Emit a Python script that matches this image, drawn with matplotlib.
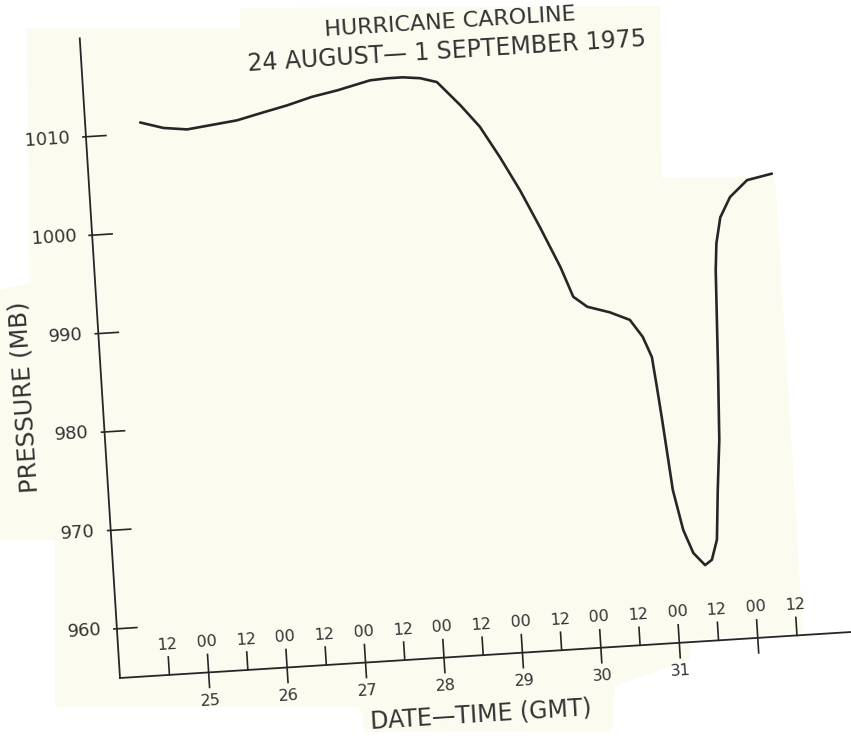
import matplotlib
matplotlib.use("Agg")
import matplotlib.pyplot as plt
from matplotlib.transforms import Affine2D
from matplotlib.patches import Polygon

# pressure trace, time in days of August (32 = 1 September), pressure in mb
times = [24.57, 24.86, 25.16, 25.80, 26.12, 26.45, 26.77, 27.10, 27.52, 27.74,
         27.94, 28.16, 28.37, 28.65, 28.88, 29.11, 29.34, 29.56, 29.79, 29.93,
         30.10, 30.38, 30.63, 30.78, 30.88, 30.92, 30.96, 31.04, 31.14, 31.25,
         31.39, 31.48, 31.56, 31.61, 31.67, 31.71, 31.76, 31.79, 31.86, 32.00,
         32.23, 32.55]
pressures = [1011.1, 1010.4, 1010.1, 1010.7, 1011.3, 1011.9, 1012.6, 1013.1, 1013.9, 1014.0,
             1014.0, 1013.8, 1013.3, 1010.8, 1008.5, 1005.3, 1001.8, 998.0, 993.8, 990.7,
             989.6, 988.9, 988.0, 986.2, 984.1, 981.0, 977.7, 970.5, 966.4, 964.0,
             962.7, 963.2, 965.2, 970.2, 975.3, 982.4, 992.5, 995.2, 997.8, 999.8,
             1001.4, 1001.9]

y_ticks = [960, 970, 980, 990, 1000, 1010]
hour_ticks = [24.5, 25, 25.5, 26, 26.5, 27, 27.5, 28, 28.5, 29, 29.5,
              30, 30.5, 31, 31.5, 32, 32.5]
hour_labels = ["12", "00"] * 8 + ["12"]
day_ticks = [25, 26, 27, 28, 29, 30, 31]
day_labels = ["25", "26", "27", "28", "29", "30", "31"]

X0, Y0 = 23.87, 955.0   # corner of the axes
X1, Y1 = 33.19, 1020.0

ink = "#262626"
txt = "#333333"
paper = "#fcfbef"

fig = plt.figure(figsize=(8.51, 7.39), dpi=100)
ax = fig.add_axes([0, 0, 1, 1])
ax.set_xlim(0, 851)
ax.set_ylim(739, 0)
ax.axis("off")

# the scan sits slightly rotated on the page
ang = 3.6
tr = Affine2D().translate(-X0, -Y0).scale(78.6, -9.86).rotate_deg(-ang).translate(120, 678) + ax.transData

# scanned paper pieces
paper_outline = [(27, 28), (240, 28), (240, 8), (660, 6), (662, 178), (775, 176),
                 (803, 632), (690, 640), (690, 660), (615, 685), (612, 732),
                 (365, 732), (360, 707), (55, 707), (55, 540), (0, 540),
                 (0, 290), (30, 283)]
ax.add_patch(Polygon(paper_outline, closed=True, facecolor=paper, edgecolor="none", zorder=0))

# axes lines
ax.plot([X0, X1], [Y0, Y0], color=ink, lw=1.3, transform=tr)
ax.plot([X0, X0], [Y0, Y1], color=ink, lw=1.3, transform=tr)

up = 18 / 9.86
down = 15 / 9.86
for t, lab in zip(hour_ticks, hour_labels):
    lo = Y0 - down if lab == "00" else Y0
    ax.plot([t, t], [lo, Y0 + up], color=ink, lw=1.2, transform=tr)
    ax.text(t, Y0 + 3.1, lab, transform=tr, ha="center", va="center",
            rotation=ang, rotation_mode="anchor", fontsize=11.5, color=txt)
for t, lab in zip(day_ticks, day_labels):
    ax.text(t, Y0 - 2.9, lab, transform=tr, ha="center", va="center",
            rotation=ang, rotation_mode="anchor", fontsize=11.5, color=txt)

for v in y_ticks:
    ax.plot([X0 - 3 / 78.6, X0 + 20 / 78.6], [v, v], color=ink, lw=1.2, transform=tr)
    ax.text(X0 - 0.2, v, str(v), transform=tr, ha="right", va="center",
            rotation=ang, rotation_mode="anchor", fontsize=13, color=txt)

ax.plot(times, pressures, color=ink, lw=1.9, transform=tr,
        solid_capstyle="round", solid_joinstyle="round")

ax.text(450, 22, "HURRICANE CAROLINE", ha="center", va="center", rotation=ang,
        fontsize=16, color=txt)
ax.text(447, 51, "24 AUGUST\u2014 1 SEPTEMBER 1975", ha="center", va="center", rotation=ang,
        fontsize=17, color=txt)
ax.text(25, 397, "PRESSURE (MB)", ha="center", va="center", rotation=90 + ang,
        fontsize=17.5, color=txt)
ax.text(481, 715, "DATE\u2014TIME (GMT)", ha="center", va="center", rotation=ang,
        fontsize=17, color=txt)

fig.savefig("out.png", dpi=100, facecolor="white")
